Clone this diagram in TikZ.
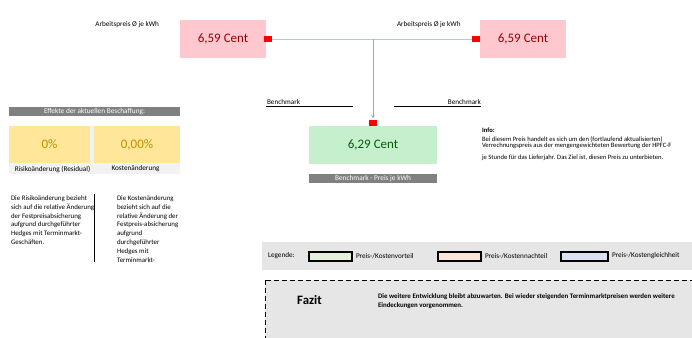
\documentclass[tikz,border=0pt]{standalone}
\usepackage{fontspec}
\setmainfont{Carlito}
\usetikzlibrary{arrows.meta}
\definecolor{badfill}{HTML}{FFC7CE}
\definecolor{badtext}{HTML}{9C0006}
\definecolor{goodfill}{HTML}{C6EFCE}
\definecolor{goodtext}{HTML}{006100}
\definecolor{neutfill}{HTML}{FFE699}
\definecolor{neuttext}{HTML}{BF8F00}
\definecolor{hdrgray}{HTML}{808080}
\definecolor{rowgray}{HTML}{F2F2F2}
\definecolor{legbg}{HTML}{E7E6E6}
\definecolor{lgreen}{HTML}{E2EFDA}
\definecolor{lorange}{HTML}{FCE4D6}
\definecolor{lblue}{HTML}{D9E1F2}
\definecolor{connh}{HTML}{B4C7E7}
\definecolor{connv}{HTML}{8EA9DB}
\begin{document}
\begin{tikzpicture}[x=1pt,y=-1pt,
  every node/.style={inner sep=0pt, outer sep=0pt},
  small/.style={font=\fontsize{7.2}{8.9}\selectfont},
  tiny/.style={font=\fontsize{6.6}{6}\selectfont},
  pricebox/.style={draw=none, minimum width=86pt, minimum height=38pt, font=\fontsize{13}{15}\selectfont},
  marker/.style={fill=red, minimum width=8pt, minimum height=6pt},
  graybar/.style={fill=hdrgray, text=white, minimum height=9pt, font=\fontsize{7.3}{8}\selectfont},
  yellowbox/.style={fill=neutfill, text=neuttext, minimum height=37pt, font=\fontsize{13}{15}\selectfont},
  legbox/.style={draw=black, line width=1.3pt, minimum width=43pt, minimum height=9pt},
  para/.style={font=\fontsize{6.9}{8.9}\selectfont, align=left, anchor=north west},
]
\useasboundingbox (0,0) rectangle (692,337);
\clip (0,0) rectangle (692,337);

% price boxes
\node[pricebox, fill=badfill, text=badtext] (p1) at (223,39) {6,59 Cent};
\node[pricebox, fill=badfill, text=badtext] (p2) at (523,39) {6,59 Cent};
\node[marker] (m1) at (268,39) {};
\node[marker] (m2) at (476,39) {};
\node[small, anchor=east] (a1) at (159,25) {Arbeitspreis Ø je kWh};
\node[small, anchor=west] (a2) at (397,25) {Arbeitspreis Ø je kWh};

% benchmark
\node[pricebox, minimum width=128pt, fill=goodfill, text=goodtext] (g) at (373,145) {6,29 Cent};
\node[marker, anchor=south] (m3) at (g.north) {};
\node[graybar, minimum width=128pt] (gb) at (373,178.5) {Benchmark - Preis je kWh};
\node[small, anchor=west] (b1) at (267,102) {Benchmark};
\node[small, anchor=east] (b2) at (481,102) {Benchmark};
\draw[line width=0.8pt] (266,106) -- (353,106);
\draw[line width=0.8pt] (394,106) -- (481,106);

% connectors
\coordinate (j) at (m3.north |- m1.east);
\draw[connh, line width=0.8pt] (m1.east) -- (m2.west);
\draw[connv, line width=0.8pt, -{Stealth[length=3.5pt,width=3.5pt]}, shorten >=1.5pt] (j) -- (m3.north);

% info
\node[anchor=west, font=\fontsize{6.6}{7}\bfseries\selectfont] (i0) at (482,130) {Info:};
\node[tiny, anchor=west] (i1) at (482,140) {Bei diesem Preis handelt es sich um den (fortlaufend aktualisierten)};
\node[tiny, anchor=west] (i2) at (482,145.5) {Verrechnungspreis aus der mengengewichteten Bewertung der HPFC-F};
\node[tiny, anchor=west] (i3) at (482,157.5) {je Stunde für das Lieferjahr. Das Ziel ist, diesen Preis zu unterbieten.};

% effects
\node[graybar, minimum width=171pt] (eh) at (94.5,111.5) {Effekte der aktuellen Beschaffung:};
\node[fill=rowgray, minimum width=171pt, minimum height=48pt] (er) at (94.5,150) {};
\node[yellowbox, minimum width=81pt] (y1) at (49.5,144.5) {0\%};
\node[yellowbox, minimum width=86pt] (y2) at (137,144.5) {0,00\%};
\node[small] (l1) at (52.5,169) {Risikoänderung (Residual)};
\node[small] (l2) at (135.5,169) {Kostenänderung};

\node[para] (t1) at (11,195.5) {Die Risikoänderung bezieht\\sich auf die relative Änderung\\der Festpreisabsicherung\\aufgrund durchgeführter\\Hedges mit Terminmarkt-\\Geschäften.};
\node[para] (t2) at (117,195.5) {Die Kostenänderung\\bezieht sich auf die\\relative Änderung der\\Festpreis-absicherung\\aufgrund\\durchgeführter\\Hedges mit\\Terminmarkt-};
\draw[line width=0.8pt] (94,194) -- (94,262);

% legend
\node[fill=legbg, minimum width=430pt, minimum height=28pt, anchor=north west] (lg) at (262,242) {};
\node[small, anchor=west] (lt) at (268,256) {Legende:};
\node[legbox, fill=lgreen] (lb1) at (330.5,256.5) {};
\node[legbox, fill=lorange] (lb2) at (459.5,256.5) {};
\node[legbox, fill=lblue, minimum width=47pt] (lb3) at (584.5,256.5) {};
\node[small, anchor=west] (lx1) at (356,256) {Preis-/Kostenvorteil};
\node[small, anchor=west] (lx2) at (485,256) {Preis-/Kostennachteil};
\node[small, anchor=west] (lx3) at (612,256) {Preis-/Kostengleichheit};

% fazit
\draw[fill=legbg, line width=1pt, dash pattern=on 5pt off 3pt] (265,280) rectangle (720,360);
\node[font=\fontsize{12.8}{14}\bfseries\selectfont] (fz) at (309.5,300) {Fazit};
\node[align=left, anchor=west, font=\fontsize{6.9}{9}\bfseries\selectfont] (ft) at (378,301.5) {Die weitere Entwicklung bleibt abzuwarten. Bei wieder steigenden Terminmarktpreisen werden weitere\\Eindeckungen vorgenommen.};
\end{tikzpicture}
\end{document}
